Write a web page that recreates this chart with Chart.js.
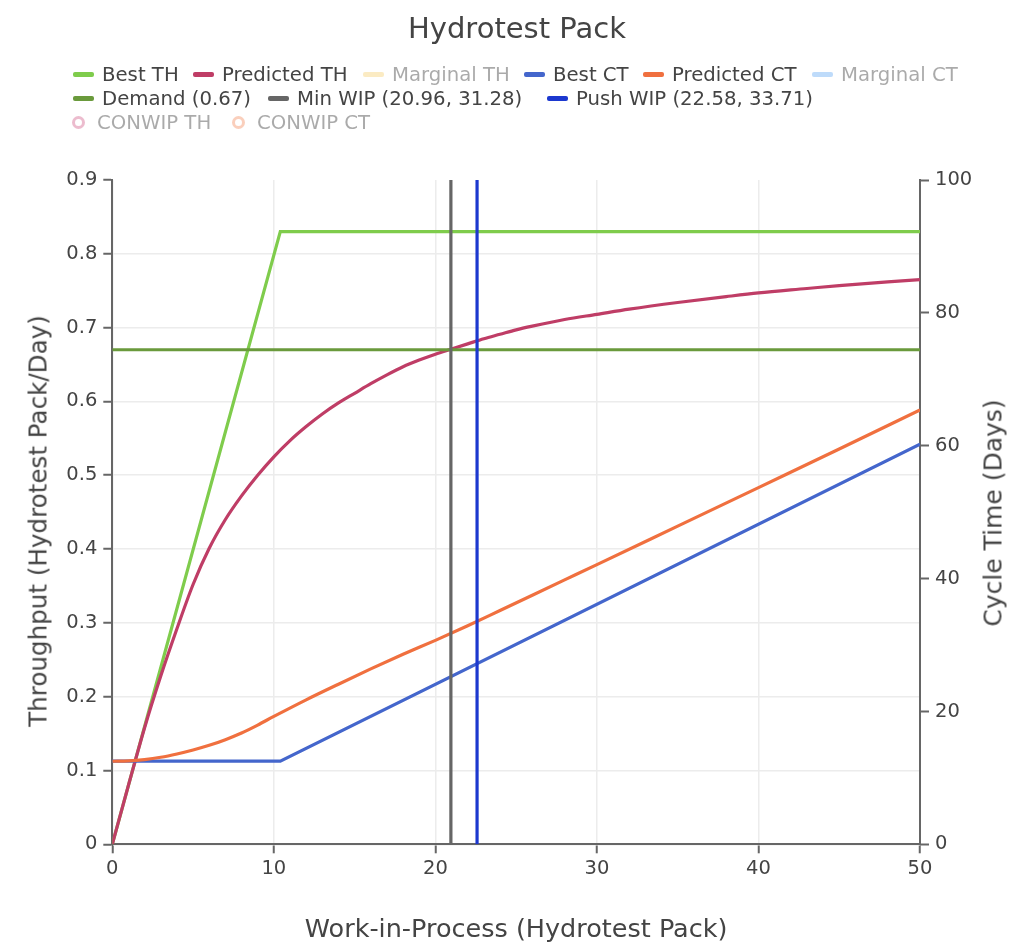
<!DOCTYPE html>
<html>
<head>
<meta charset="utf-8">
<title>Hydrotest Pack</title>
<script src="https://cdn.jsdelivr.net/npm/chart.js@4.4.1/dist/chart.umd.min.js"></script>
<style>
  body { margin: 0; background: #fff; }
  #wrap { position: relative; width: 1024px; height: 947px; }
  #legend, .axTitle { font-family: "DejaVu Sans", sans-serif; color: #444; }
  .item { position: absolute; display: flex; align-items: center; height: 24px; white-space: nowrap; font-size: 19.7px; }
  .sym { width: 21px; height: 5px; border-radius: 2px; margin-right: 8px; }
  .ring { width: 7px; height: 7px; border: 3px solid; border-radius: 50%; margin: 0 12px 0 0; }
  .off { opacity: 0.45; }
  .axTitle { position: absolute; font-size: 24.6px; white-space: nowrap;
             transform: translate(-50%, -50%) rotate(-90deg); }
  #thTitle { left: 38px; top: 521px; }
  #ctTitle { left: 993px; top: 513px; font-size: 25px; }
</style>
</head>
<body>
<div id="wrap">
  <canvas id="chart" width="1024" height="947"></canvas>
  <div id="legend"></div>
  <div class="axTitle" id="thTitle">Throughput (Hydrotest Pack/Day)</div>
  <div class="axTitle" id="ctTitle">Cycle Time (Days)</div>
</div>
<script>
// throughput curve (predicted)
const wip = [0, 1, 2, 3, 4, 5, 6, 7, 8, 9, 10, 11, 12, 13, 14, 15, 16, 17, 18, 19, 20,
             21, 22, 23, 24, 25, 26, 28, 30, 32, 35, 38, 40, 43, 45, 48, 50];
const predictedTH = [0, 0.080, 0.158, 0.228, 0.292, 0.352, 0.401, 0.440, 0.472, 0.500, 0.525,
                     0.547, 0.566, 0.583, 0.598, 0.611, 0.624, 0.636, 0.647, 0.656, 0.664,
                     0.671, 0.678, 0.685, 0.691, 0.697, 0.702, 0.711, 0.718, 0.725, 0.734,
                     0.742, 0.747, 0.753, 0.757, 0.762, 0.765];

// cycle time curve (predicted)
const ctWip = [0, 1, 2, 3, 4, 5, 6, 7, 8, 9, 10, 12, 14, 16, 18, 20, 22, 24, 26, 28, 30, 35, 40, 45, 50];
const predictedCT = [12.5, 12.55, 12.75, 13.1, 13.6, 14.2, 14.9, 15.75, 16.75, 17.95, 19.25, 21.75,
                     24.1, 26.4, 28.6, 30.7, 32.9, 35.2, 37.5, 39.8, 42.1, 47.9, 53.7, 59.5, 65.4];

// best case
const bestWip = [0, 10.4, 50];
const bestTH = [0, 0.83, 0.83];
const bestCT = [12.53, 12.53, 60.24];

// demand and markers
const demandWip = [0, 50];
const demandTH = [0.67, 0.67];
const minWip = [20.96, 31.28];
const pushWip = [22.58, 33.71];

const thTicks = [0, 0.1, 0.2, 0.3, 0.4, 0.5, 0.6, 0.7, 0.8, 0.9];
const ctTicks = [0, 20, 40, 60, 80, 100];
const wipTicks = [0, 10, 20, 30, 40, 50];

const pts = (xs, ys) => xs.map((x, i) => ({ x: x, y: ys[i] }));

// legend: name, colour, shown?, marker
const legendItems = [
  ["Best TH", "#7fcc4c", true, "line"],
  ["Predicted TH", "#bf3d66", true, "line"],
  ["Marginal TH", "#f7d37a", false, "line"],
  ["Best CT", "#4466cc", true, "line"],
  ["Predicted CT", "#f0703f", true, "line"],
  ["Marginal CT", "#6fb0f5", false, "line"],
  ["Demand (" + demandTH[0] + ")", "#6a9a3c", true, "line"],
  ["Min WIP (" + minWip[0] + ", " + minWip[1] + ")", "#666666", true, "line"],
  ["Push WIP (" + pushWip[0] + ", " + pushWip[1] + ")", "#1c38cf", true, "line"],
  ["CONWIP TH", "#d46a92", false, "ring"],
  ["CONWIP CT", "#f5946a", false, "ring"]
];
const legendPos = [[73, 62], [193, 62], [363, 62], [524, 62], [643, 62], [812, 62],
                   [73, 86], [268, 86], [547, 86],
                   [72, 110], [232, 110]];

const legend = document.getElementById("legend");
legendItems.forEach((it, i) => {
  const el = document.createElement("div");
  el.className = "item";
  el.style.left = legendPos[i][0] + "px";
  el.style.top = legendPos[i][1] + "px";
  const sym = document.createElement("span");
  if (it[3] === "ring") {
    sym.className = "ring" + (it[2] ? "" : " off");
    sym.style.borderColor = it[1];
  } else {
    sym.className = "sym" + (it[2] ? "" : " off");
    sym.style.background = it[1];
  }
  const txt = document.createElement("span");
  txt.textContent = it[0];
  if (!it[2]) txt.className = "off";
  el.appendChild(sym);
  el.appendChild(txt);
  legend.appendChild(el);
});

Chart.defaults.font.family = '"DejaVu Sans", sans-serif';
Chart.defaults.color = "#444";

const line = (label, data, color, axis, order, smooth) => ({
  label: label,
  data: data,
  borderColor: color,
  backgroundColor: color,
  borderWidth: 3.2,
  pointRadius: 0,
  fill: false,
  yAxisID: axis,
  order: order,
  cubicInterpolationMode: smooth ? "monotone" : "default"
});

new Chart(document.getElementById("chart"), {
  type: "line",
  data: {
    datasets: [
      line("Push WIP", pts([pushWip[0], pushWip[0]], [0, 0.9]), "#1c38cf", "y", 0),
      line("Min WIP", pts([minWip[0], minWip[0]], [0, 0.9]), "#666666", "y", 1),
      line("Demand", pts(demandWip, demandTH), "#6a9a3c", "y", 2),
      line("Predicted CT", pts(ctWip, predictedCT), "#f0703f", "y1", 3, true),
      line("Best CT", pts(bestWip, bestCT), "#4466cc", "y1", 4),
      line("Predicted TH", pts(wip, predictedTH), "#bf3d66", "y", 5, true),
      line("Best TH", pts(bestWip, bestTH), "#7fcc4c", "y", 6)
    ]
  },
  options: {
    responsive: false,
    animation: false,
    plugins: {
      legend: { display: false },
      tooltip: { enabled: false },
      title: {
        display: true,
        text: "Hydrotest Pack",
        color: "#444",
        font: { size: 29, weight: "normal" },
        padding: { top: 13, bottom: 132.2 }
      }
    },
    layout: { padding: { left: 10 } },
    scales: {
      x: {
        type: "linear",
        position: "bottom",
        min: 0,
        max: 50,
        afterBuildTicks: s => { s.ticks = wipTicks.map(v => ({ value: v })); },
        afterFit: s => { s.height = 102.7; },
        grid: { color: "#ececec", lineWidth: 1.5, tickColor: "#666", tickLength: 9, tickWidth: 2 },
        border: { color: "#666", width: 2 },
        ticks: { font: { size: 19.5 }, padding: 4, maxRotation: 0 },
        title: {
          display: true,
          text: "Work-in-Process (Hydrotest Pack)",
          font: { size: 25.5 },
          padding: { top: 0, bottom: 1 }
        }
      },
      y: {
        position: "left",
        min: 0,
        max: 0.9,
        afterBuildTicks: s => { s.ticks = thTicks.map(v => ({ value: v })); },
        afterFit: s => { s.width = 102.3; },
        grid: {
          color: c => (c.tick && c.tick.value === 0.9 ? "rgba(0,0,0,0)" : "#ececec"),
          lineWidth: 1.5, tickColor: "#666", tickLength: 9, tickWidth: 2
        },
        border: { color: "#666", width: 2 },
        ticks: { font: { size: 19.5 }, padding: 6 }
      },
      y1: {
        position: "right",
        min: 0,
        max: 100,
        afterBuildTicks: s => { s.ticks = ctTicks.map(v => ({ value: v })); },
        afterFit: s => { s.width = 104; },
        grid: { drawOnChartArea: false, tickColor: "#666", tickLength: 9, tickWidth: 2 },
        border: { color: "#666", width: 2 },
        ticks: { font: { size: 19.5 }, padding: 6 }
      }
    }
  }
});
</script>
</body>
</html>
